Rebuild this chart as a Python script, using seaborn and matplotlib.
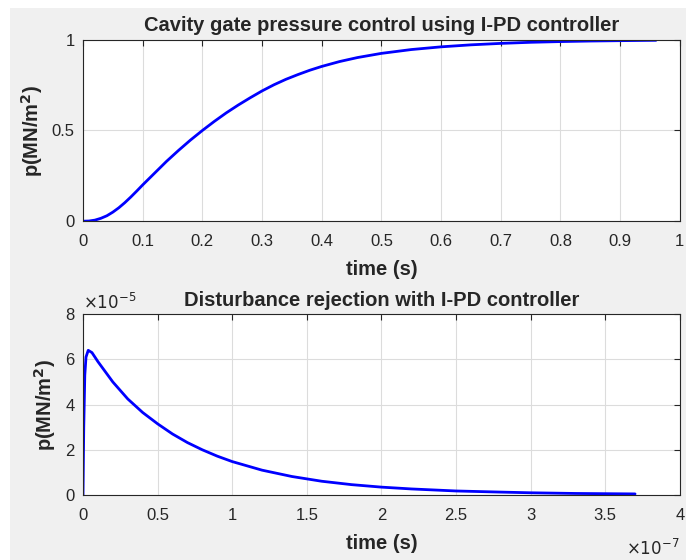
import matplotlib
matplotlib.use("Agg")
import matplotlib.pyplot as plt
import seaborn as sns

# step response (top)
t_step = [0, 0.01, 0.02, 0.03, 0.04, 0.05, 0.06, 0.07, 0.08, 0.09, 0.10, 0.12,
          0.14, 0.16, 0.18, 0.20, 0.22, 0.24, 0.26, 0.28, 0.30, 0.32, 0.34,
          0.36, 0.38, 0.40, 0.43, 0.46, 0.50, 0.55, 0.60, 0.65, 0.70, 0.75,
          0.80, 0.85, 0.90, 0.96]
p_step = [0, 0.001, 0.006, 0.016, 0.03, 0.05, 0.074, 0.102, 0.133, 0.166, 0.2,
          0.265, 0.33, 0.39, 0.447, 0.5, 0.55, 0.597, 0.64, 0.68, 0.718, 0.752,
          0.782, 0.808, 0.832, 0.853, 0.88, 0.902, 0.925, 0.946, 0.961, 0.972,
          0.98, 0.986, 0.99, 0.993, 0.995, 0.997]

# disturbance response (bottom), t in 1e-7 s, p in 1e-5
t_dist = [0, 0.005, 0.012, 0.02, 0.035, 0.06, 0.1, 0.15, 0.2, 0.3, 0.4, 0.5,
          0.6, 0.7, 0.8, 0.9, 1.0, 1.2, 1.4, 1.6, 1.8, 2.0, 2.2, 2.5, 2.8,
          3.0, 3.3, 3.7]
p_dist = [0, 3.0, 5.3, 6.1, 6.4, 6.3, 5.9, 5.45, 5.0, 4.25, 3.65, 3.15, 2.7,
          2.32, 2.0, 1.72, 1.48, 1.1, 0.82, 0.61, 0.46, 0.35, 0.27, 0.18,
          0.13, 0.1, 0.07, 0.05]

x1_ticks = [0, 0.1, 0.2, 0.3, 0.4, 0.5, 0.6, 0.7, 0.8, 0.9, 1]
x1_labels = ["0", "0.1", "0.2", "0.3", "0.4", "0.5", "0.6", "0.7", "0.8", "0.9", "1"]
y1_ticks = [0, 0.5, 1]
y1_labels = ["0", "0.5", "1"]
x2_ticks = [0, 0.5, 1, 1.5, 2, 2.5, 3, 3.5, 4]
x2_labels = ["0", "0.5", "1", "1.5", "2", "2.5", "3", "3.5", "4"]
y2_ticks = [0, 2, 4, 6, 8]
y2_labels = ["0", "2", "4", "6", "8"]

sns.set_style("whitegrid")
plt.rcParams["font.family"] = ["Liberation Sans", "DejaVu Sans"]

fig = plt.figure(figsize=(6.86, 5.6), dpi=100, facecolor="white")
# grey window area (white border at top/left as in the screenshot)
fig.patches.append(plt.Rectangle((10 / 686, 0), 1, 552 / 560, transform=fig.transFigure,
                                 facecolor="#f0f0f0", edgecolor="none", zorder=-5))

ax1 = fig.add_axes([0.121, 0.605, 0.870, 0.324])
ax2 = fig.add_axes([0.121, 0.116, 0.870, 0.323])

sns.lineplot(x=t_step, y=p_step, ax=ax1, color="#0000ff", linewidth=2)
sns.lineplot(x=t_dist, y=p_dist, ax=ax2, color="#0000ff", linewidth=2)

ax1.set_xlim(0, 1)
ax1.set_ylim(0, 1)
ax1.set_xticks(x1_ticks)
ax1.set_xticklabels(x1_labels)
ax1.set_yticks(y1_ticks)
ax1.set_yticklabels(y1_labels)
ax1.set_title("Cavity gate pressure control using I-PD controller",
              fontsize=14.5, fontweight="bold", pad=6)

ax2.set_xlim(0, 4)
ax2.set_ylim(0, 8)
ax2.set_xticks(x2_ticks)
ax2.set_xticklabels(x2_labels)
ax2.set_yticks(y2_ticks)
ax2.set_yticklabels(y2_labels)
ax2.set_title("Disturbance rejection with I-PD controller",
              fontsize=14.5, fontweight="bold", pad=6)
ax2.text(0.0, 1.012, "$\\times10^{-5}$", transform=ax2.transAxes, ha="left", va="bottom",
         fontsize=12, color="#262626")
ax2.text(1.0, -0.235, "$\\times10^{-7}$", transform=ax2.transAxes, ha="right", va="top",
         fontsize=12, color="#262626")

for ax in (ax1, ax2):
    ax.set_facecolor("white")
    ax.set_xlabel("time (s)", fontsize=14.5, fontweight="bold", labelpad=8)
    ax.set_ylabel("p(MN/m$^\\mathbf{2}$)", fontsize=14.5, fontweight="bold", labelpad=5)
    ax.grid(True, color="#dcdcdc", linewidth=0.8)
    ax.tick_params(direction="in", length=4, top=True, right=True, labelsize=12,
                   color="#262626", labelcolor="#262626")
    ax.tick_params(axis="x", pad=9)
    ax.tick_params(axis="y", pad=6)
    for s in ax.spines.values():
        s.set_color("#262626")
        s.set_linewidth(0.8)

fig.savefig("out.png", dpi=100, facecolor=fig.get_facecolor())
